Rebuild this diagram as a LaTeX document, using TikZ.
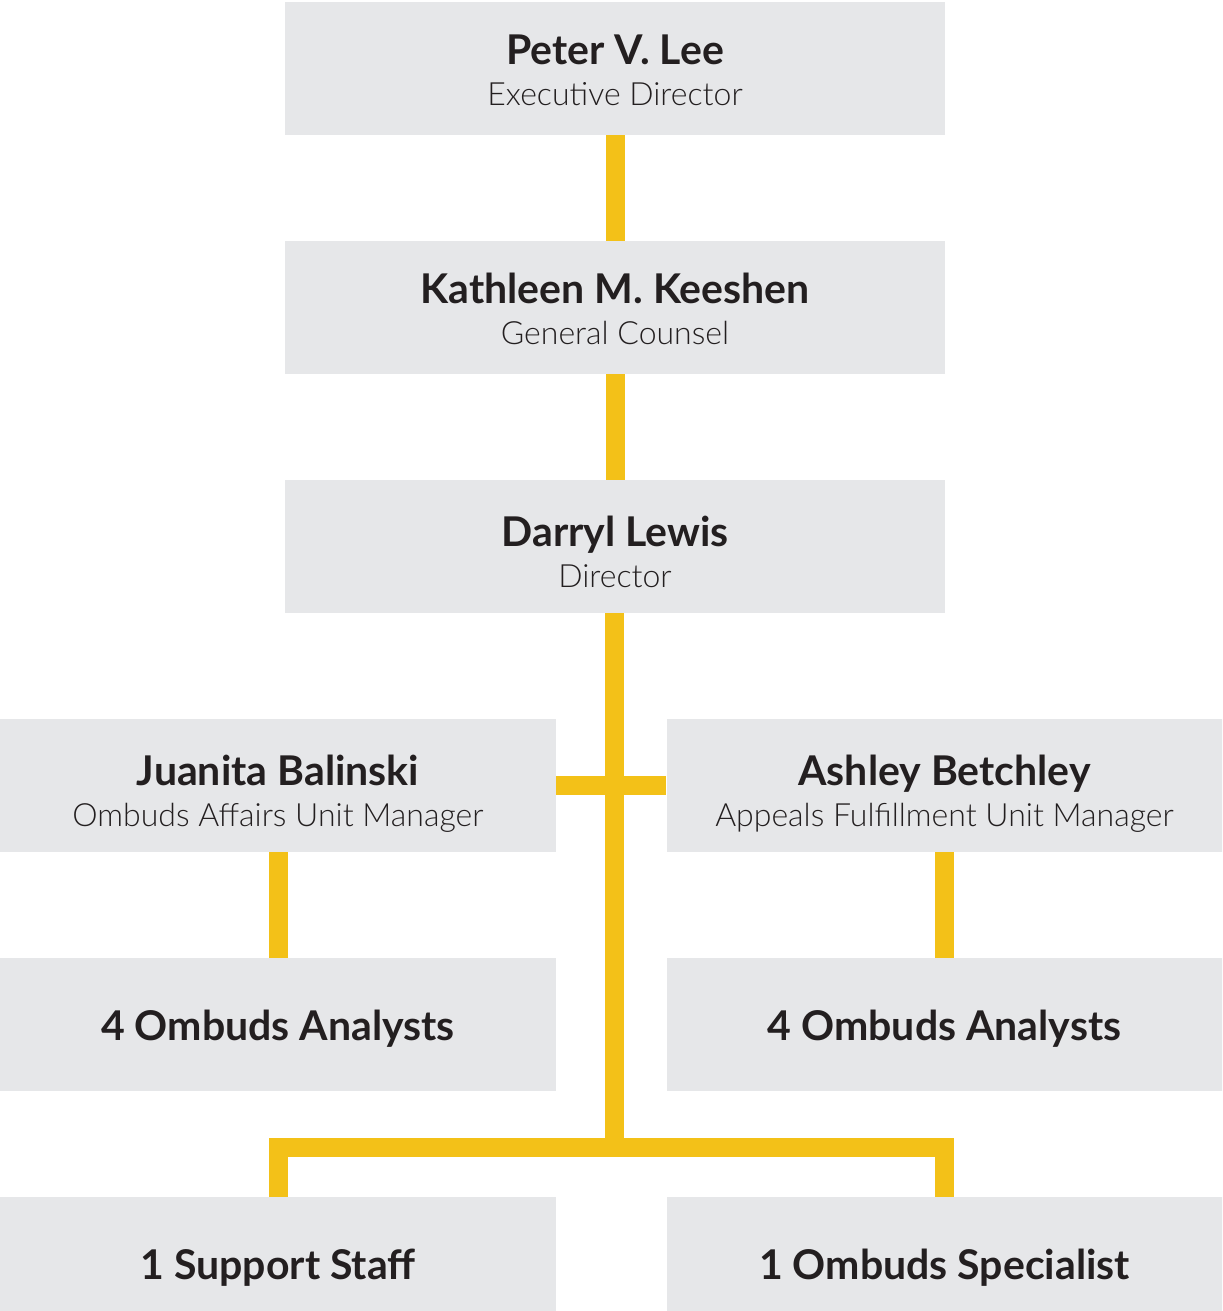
\documentclass[tikz,border=0pt]{standalone}
\usepackage{fontspec}
\setmainfont{Lato}[UprightFont=* Light, BoldFont=* Bold]
\usetikzlibrary{positioning}
\definecolor{boxgray}{HTML}{E6E7E9}
\definecolor{linkyellow}{HTML}{F3C118}
\definecolor{inkblack}{HTML}{231F20}
\newcommand{\who}[3][20pt]{{\fontsize{20.5}{20.5}\selectfont\bfseries\rule{0pt}{#1}#2}\\%
  {#3\rule[-4pt]{0pt}{4pt}}}

\begin{document}
\begin{tikzpicture}[x=0.5pt,y=-0.5pt,
    box/.style={fill=boxgray,text=inkblack,align=center,inner sep=0pt,
      minimum height=66.5pt,font=\fontsize{16}{20.5}\selectfont},
    wide/.style={box,minimum width=330pt},
    half/.style={box,minimum width=278pt},
    count/.style={font=\fontsize{20.5}{22}\selectfont\bfseries,
      text height=16pt,text depth=0pt},
    link/.style={draw=linkyellow,line width=9.5pt,line join=miter}]
  \clip (0,0) rectangle (1222,1311);
  \fill[white] (0,0) rectangle (1222,1311);
  % top of the chart
  \node[wide] (lee) at (615,68.5) {\who{Peter V. Lee}{Executive Director}};
  \node[wide] (keeshen) at (615,307.5) {\who{Kathleen M. Keeshen}{General Counsel}};
  \node[wide] (lewis) at (615,546.5) {\who[24pt]{Darryl Lewis}{Director}};
  % unit managers
  \node[half] (balinski) at (278,785.5) {\who[24pt]{Juanita Balinski}{Ombuds Affairs Unit Manager}};
  \node[half] (betchley) at (944.5,785.5) {\who[24pt]{Ashley Betchley}{Appeals Fulfillment Unit Manager}};
  \node[half,count] (anaL) at (278,1024.5) {4 Ombuds Analysts};
  \node[half,count] (anaR) at (944.5,1024.5) {4 Ombuds Analysts};
  \node[half,count] (support) at (278,1263.5) {1 Support Staff};
  \node[half,count] (specialist) at (944.5,1263.5) {1 Ombuds Specialist};
  \coordinate (bus) at (614.5,1147.5);
  % links
  \draw[link] (lee) -- (keeshen);
  \draw[link] (keeshen) -- (lewis);
  \draw[link] (lewis.south -| bus) -- (bus);
  \draw[link] (balinski.east) -- (betchley.west);
  \draw[link] (balinski) -- (anaL);
  \draw[link] (betchley) -- (anaR);
  \draw[link] (support.north) |- (bus) -| (specialist.north);
\end{tikzpicture}
\end{document}
